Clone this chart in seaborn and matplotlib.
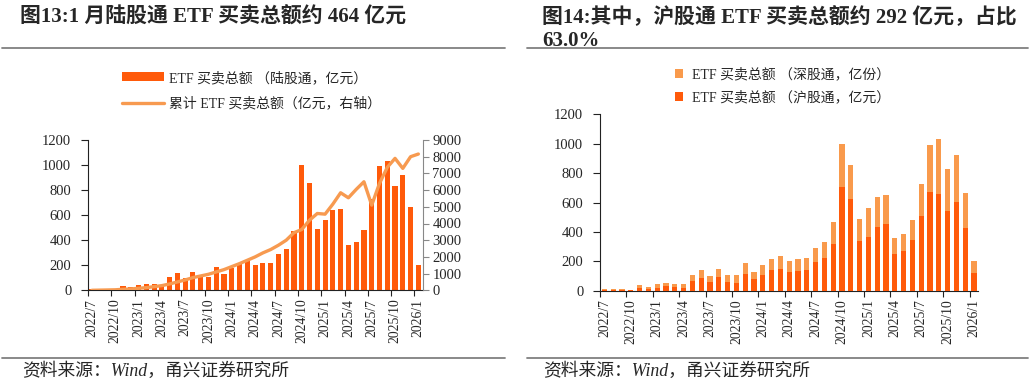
import matplotlib
matplotlib.use("Agg")
import matplotlib.pyplot as plt
from matplotlib.patches import Patch
from matplotlib.lines import Line2D
import seaborn as sns
import pandas as pd
import numpy as np

# ---------------- data ----------------
months = [f"{p.year}/{p.month}" for p in pd.period_range("2022-07", "2026-01", freq="M")]
total = [9, 9, 10, 8, 36, 27, 45, 52, 48, 45, 107, 141, 100, 145, 109, 107, 186, 129,
         175, 218, 236, 200, 218, 220, 288, 333, 470, 998, 853, 488, 562, 640, 649,
         361, 386, 481, 728, 993, 1030, 830, 923, 665, 202]
sh = [5, 5, 6, 5, 18, 14, 18, 29, 25, 18, 68, 88, 57, 95, 61, 54, 116, 79,
      109, 141, 147, 129, 136, 143, 195, 225, 318, 705, 626, 340, 367, 435, 454,
      247, 272, 347, 510, 674, 660, 544, 601, 426, 122]
cum = [0, 10, 20, 30, 60, 80, 120, 160, 220, 280, 380, 500, 620, 760, 860, 960,
       1100, 1240, 1420, 1600, 1800, 2000, 2240, 2440, 2700, 3000, 3450, 3640,
       4200, 4600, 4560, 5160, 5840, 5540, 6040, 6500, 5100, 6400, 7360, 7900,
       7300, 8000, 8160]

title_left = "图13:1 月陆股通 ETF 买卖总额约 464 亿元"
title_right_1 = "图14:其中，沪股通 ETF 买卖总额约 292 亿元，占比"
title_right_2 = "63.0%"
source = "资料来源：Wind，甬兴证券研究所"
lab_bar = "ETF 买卖总额 （陆股通，亿元）"
lab_line = "累计 ETF 买卖总额（亿元，右轴）"
lab_sz = "ETF 买卖总额 （深股通，亿份）"
lab_sh = "ETF 买卖总额 （沪股通，亿元）"

df = pd.DataFrame({"month": months, "total": total, "sh": sh, "cum": cum})
df["pos"] = np.arange(len(df))

# ---------------- style ----------------
sns.set_style("ticks")
FAM = ["Liberation Serif", "Noto Sans CJK SC"]
plt.rcParams["font.family"] = FAM
plt.rcParams["axes.unicode_minus"] = False

C_DARK = "#FF5A0A"
C_LIGHT = "#F99A4C"
C_LINE = "#F79A50"

fig = plt.figure(figsize=(10.32, 3.85), dpi=100)
W, H = 1032, 385

def fx(px):
    return px / W

def fy(py):
    return 1 - py / H

# ---------------- left chart ----------------
axL = fig.add_axes([fx(88), fy(290.3), fx(422.7) - fx(88), fy(140) - fy(290.3)])
sns.barplot(data=df, x="month", y="total", color=C_DARK, saturation=1, width=0.66,
            linewidth=0, ax=axL, zorder=2)
axR = axL.twinx()
sns.lineplot(data=df, x="pos", y="cum", color=C_LINE, lw=2.4, ax=axR, zorder=3)
axL.set_xlim(-0.47, 42.56)
axL.set_ylim(0, 1200)
axR.set_ylim(0, 9000)
axL.set_yticks(range(0, 1201, 200))
axR.set_yticks(range(0, 9001, 1000))

# ---------------- right chart ----------------
ax2 = fig.add_axes([fx(600), fy(290.7), fx(978) - fx(600), fy(114.3) - fy(290.7)])
sns.barplot(data=df, x="month", y="total", color=C_LIGHT, saturation=1, width=0.6,
            linewidth=0, ax=ax2, zorder=2)
sns.barplot(data=df, x="month", y="sh", color=C_DARK, saturation=1, width=0.6,
            linewidth=0, ax=ax2, zorder=3)
ax2.set_xlim(-0.45, 42.45)
ax2.set_ylim(0, 1200)
ax2.set_yticks(range(0, 1201, 200))

# ---------------- common axis formatting ----------------
label_idx = list(range(0, len(months), 3))
for ax in (axL, ax2):
    ax.set_xlabel("")
    ax.set_ylabel("")
    for s in ("top", "right"):
        ax.spines[s].set_visible(False)
    ax.spines["left"].set_color("#222222")
    ax.spines["bottom"].set_color("#222222")
    ax.set_xticks([i - 0.5 for i in label_idx])
    ax.set_xticklabels([])
    ax.tick_params(axis="x", which="major", length=4, width=0.8, color="#222222")
    ax.set_xticks(label_idx, minor=True)
    ax.set_xticklabels([months[i] for i in label_idx], minor=True, rotation=90,
                       fontsize=9.8, family=FAM)
    ax.tick_params(axis="x", which="minor", length=0, pad=6)
    ax.tick_params(axis="y", length=5, width=0.8, color="#222222", labelsize=10.5, pad=7)
    for t in ax.get_yticklabels():
        t.set_family(FAM)

axR.set_xlabel("")
axR.set_ylabel("")
axR.spines["top"].set_visible(False)
axR.spines["left"].set_visible(False)
axR.spines["bottom"].set_visible(False)
axR.spines["right"].set_color("#888888")
axR.tick_params(axis="y", length=4, width=0.8, color="#888888", labelsize=10.5, pad=3)
for t in axR.get_yticklabels():
    t.set_family(FAM)

# ---------------- legends ----------------
hL = [Patch(facecolor=C_DARK, edgecolor="none", linewidth=0),
      Line2D([0], [0], color=C_LINE, lw=2.4)]
legL = fig.legend(hL, [lab_bar, lab_line], loc="upper left",
                  bbox_to_anchor=(fx(122), fy(71)), frameon=False,
                  prop={"family": FAM, "size": 10}, handlelength=3.0,
                  handleheight=0.6, labelspacing=0.85, handletextpad=0.35,
                  borderpad=0, borderaxespad=0)

h2 = [Patch(facecolor=C_LIGHT, edgecolor="none", linewidth=0),
      Patch(facecolor=C_DARK, edgecolor="none", linewidth=0)]
leg2 = fig.legend(h2, [lab_sz, lab_sh], loc="upper left",
                  bbox_to_anchor=(fx(675), fy(68)), frameon=False,
                  prop={"family": FAM, "size": 10}, handlelength=0.6,
                  handleheight=0.6, labelspacing=0.65, handletextpad=0.6,
                  borderpad=0, borderaxespad=0)

# ---------------- titles, rules, sources ----------------
fig.text(fx(20), fy(18), title_left, fontsize=15, fontweight="bold",
         family=FAM, va="center", ha="left")
fig.text(fx(542), fy(18), title_right_1, fontsize=15, fontweight="bold",
         family=FAM, va="center", ha="left")
fig.text(fx(542), fy(41), title_right_2, fontsize=15, fontweight="bold",
         family=FAM, va="center", ha="left")

for x0, x1 in ((2, 505), (527, 1028)):
    for yy in (48, 358):
        fig.add_artist(Line2D([fx(x0), fx(x1)], [fy(yy), fy(yy)], color="#808080",
                              lw=1.3, transform=fig.transFigure))

fig.text(fx(22), fy(371), source, fontsize=12.8, style="italic", family=FAM,
         va="center", ha="left")
fig.text(fx(543), fy(371), source, fontsize=12.8, style="italic", family=FAM,
         va="center", ha="left")

fig.savefig("out.png", dpi=100)
